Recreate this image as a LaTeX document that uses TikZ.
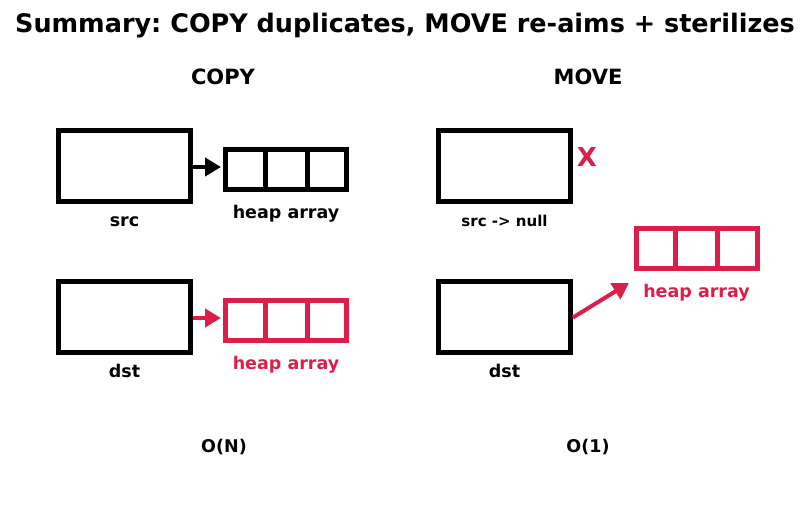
\documentclass[tikz,border=0pt]{standalone}
\usepackage{fontspec}
\setmainfont{DejaVu Sans}
\usetikzlibrary{arrows.meta}
\definecolor{moved}{RGB}{220,30,75}
\frenchspacing
\tikzset{
    obj/.style={draw, line width=5pt, minimum width=132pt, minimum height=71pt, inner sep=0pt},
    heap/.style={draw, line width=5pt, minimum width=121pt, minimum height=40pt, inner sep=0pt},
    lbl/.style={font=\bfseries\fontsize{17.5}{20}\selectfont},
    hdr/.style={font=\bfseries\fontsize{21}{25}\selectfont},
}
\begin{document}
\begin{tikzpicture}[x=1pt, y=-1pt, >={Triangle[length=16pt,width=18pt]}]
    \useasboundingbox (0,0) rectangle (811,512);
    \def\cw{42}
    % Title
    \node[font=\bfseries\fontsize{25.5}{30}\selectfont] (title) at (405,26) {Summary: COPY duplicates, MOVE re-aims + sterilizes};
    \node[hdr] (copyhdr) at (223,77) {COPY};
    \node[hdr] (movehdr) at (588,77) {MOVE};

    % COPY side
    \node[obj] (csrc) at (124.5,166) {};
    \node[lbl, below=9pt] (csrclbl) at (csrc.south) {src};
    \node[heap] (cheap) at (286,169.5) {};
    \node[lbl, below=10pt] (cheaplbl) at (cheap.south) {heap array};
    \foreach \i in {1,2}
        \draw[line width=5pt] ([xshift=\i*\cw]cheap.north west) -- ([xshift=\i*\cw]cheap.south west);
    \draw[->, line width=4pt, line join=round] ([yshift=2.5pt]csrc.east |- cheap.west) -- ([yshift=2.5pt,xshift=-2pt]cheap.west);

    \node[obj] (cdst) at (124.5,316.5) {};
    \node[lbl, below=6pt] (cdstlbl) at (cdst.south) {dst};
    \node[heap, moved] (cnew) at (286,320.5) {};
    \node[lbl, moved, below=10pt] (cnewlbl) at (cnew.south) {heap array};
    \foreach \i in {1,2}
        \draw[moved, line width=5pt] ([xshift=\i*\cw]cnew.north west) -- ([xshift=\i*\cw]cnew.south west);
    \draw[->, moved, line width=4pt, line join=round] ([yshift=2.5pt]cdst.east |- cnew.west) -- ([yshift=2.5pt,xshift=-2pt]cnew.west);

    % MOVE side
    \node[obj] (msrc) at (504.5,166) {};
    \node[font=\bfseries\fontsize{15}{18}\selectfont, below=8pt] (msrclbl) at (msrc.south) {src -> null};
    \node[moved, font=\bfseries\fontsize{26}{30}\selectfont] (cross) at (587,157) {X};

    \node[obj] (mdst) at (504.5,316.5) {};
    \node[lbl, below=6pt] (mdstlbl) at (mdst.south) {dst};
    \node[heap, moved] (mheap) at (696.5,248.5) {};
    \node[lbl, moved, below=10pt] (mheaplbl) at (mheap.south) {heap array};
    \foreach \i in {1,2}
        \draw[moved, line width=5pt] ([xshift=\i*\cw]mheap.north west) -- ([xshift=\i*\cw]mheap.south west);
    \coordinate (mtip) at (629,283);
    \draw[->, moved, line width=4pt, line join=round] ([yshift=-1pt]mdst.east) -- (mtip);

    % Costs
    \node[lbl] (ocopy) at (224,447) {O(N)};
    \node[lbl] (omove) at (588,447) {O(1)};
\end{tikzpicture}
\end{document}
